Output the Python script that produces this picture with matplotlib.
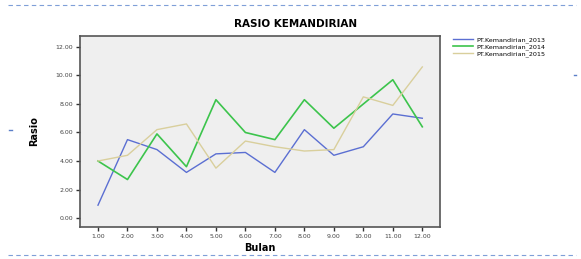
import matplotlib
matplotlib.use('Agg')
import matplotlib.pyplot as plt
from matplotlib.lines import Line2D

# months and the three ratio series
bulan = [1, 2, 3, 4, 5, 6, 7, 8, 9, 10, 11, 12]
rasio_2013 = [0.9, 5.5, 4.8, 3.2, 4.5, 4.6, 3.2, 6.2, 4.4, 5.0, 7.3, 7.0]
rasio_2014 = [4.0, 2.7, 5.9, 3.6, 8.3, 6.0, 5.5, 8.3, 6.3, 8.0, 9.7, 6.4]
rasio_2015 = [4.0, 4.4, 6.2, 6.6, 3.5, 5.4, 5.0, 4.7, 4.8, 8.5, 7.9, 10.6]
labels = ['PT.Kemandirian_2013', 'PT.Kemandirian_2014', 'PT.Kemandirian_2015']
y_ticks = [0, 2, 4, 6, 8, 10, 12]

fig = plt.figure(figsize=(5.81, 2.59), dpi=100)
ax = fig.add_axes([0.1377, 0.1236, 0.6196, 0.7374])
ax.set_facecolor('#efefef')

ax.plot(bulan, rasio_2013, color='#5b6fd2', lw=1.0, label=labels[0])
ax.plot(bulan, rasio_2014, color='#3cc44c', lw=1.2, label=labels[1])
ax.plot(bulan, rasio_2015, color='#d9cf9c', lw=1.0, label=labels[2])

ax.set_xlim(0.39, 12.6)
ax.set_ylim(-0.63, 12.77)
ax.set_xticks(bulan)
ax.set_xticklabels(['%.2f' % b for b in bulan], fontsize=4.5, color='#444444')
ax.set_yticks(y_ticks)
ax.set_yticklabels(['%.2f' % v for v in y_ticks], fontsize=4.5, color='#444444')
ax.tick_params(length=3, width=1, color='#333333', pad=2)
for s in ax.spines.values():
    s.set_color('#555555')
    s.set_linewidth(1.2)

ax.set_xlabel('Bulan', fontsize=7, fontweight='bold', labelpad=3)
ax.set_ylabel('Rasio', fontsize=7, fontweight='bold', labelpad=12)
fig.text(296 / 581, 1 - 24 / 259, 'RASIO KEMANDIRIAN', fontsize=7.5,
         fontweight='bold', ha='center', va='center')

fig.legend(loc='upper left', bbox_to_anchor=(0.775, 0.87), fontsize=4.6,
           frameon=False, handlelength=3, handletextpad=0.6,
           labelspacing=0.15, borderpad=0)

# dashed lines above and below the chart, as in the copied document
for yy in (1 - 5 / 259, 1 - 255 / 259):
    fig.lines.append(Line2D([0.014, 0.992], [yy, yy], transform=fig.transFigure,
                            ls=(0, (4, 3)), lw=0.8, color='#7f9fd8'))
fig.lines.append(Line2D([0.016, 0.020], [1 - 130 / 259] * 2, transform=fig.transFigure,
                        lw=1, color='#5b7fc8'))
fig.lines.append(Line2D([0.988, 0.992], [1 - 75 / 259] * 2, transform=fig.transFigure,
                        lw=1, color='#5b7fc8'))

fig.savefig('out.png', dpi=100)
